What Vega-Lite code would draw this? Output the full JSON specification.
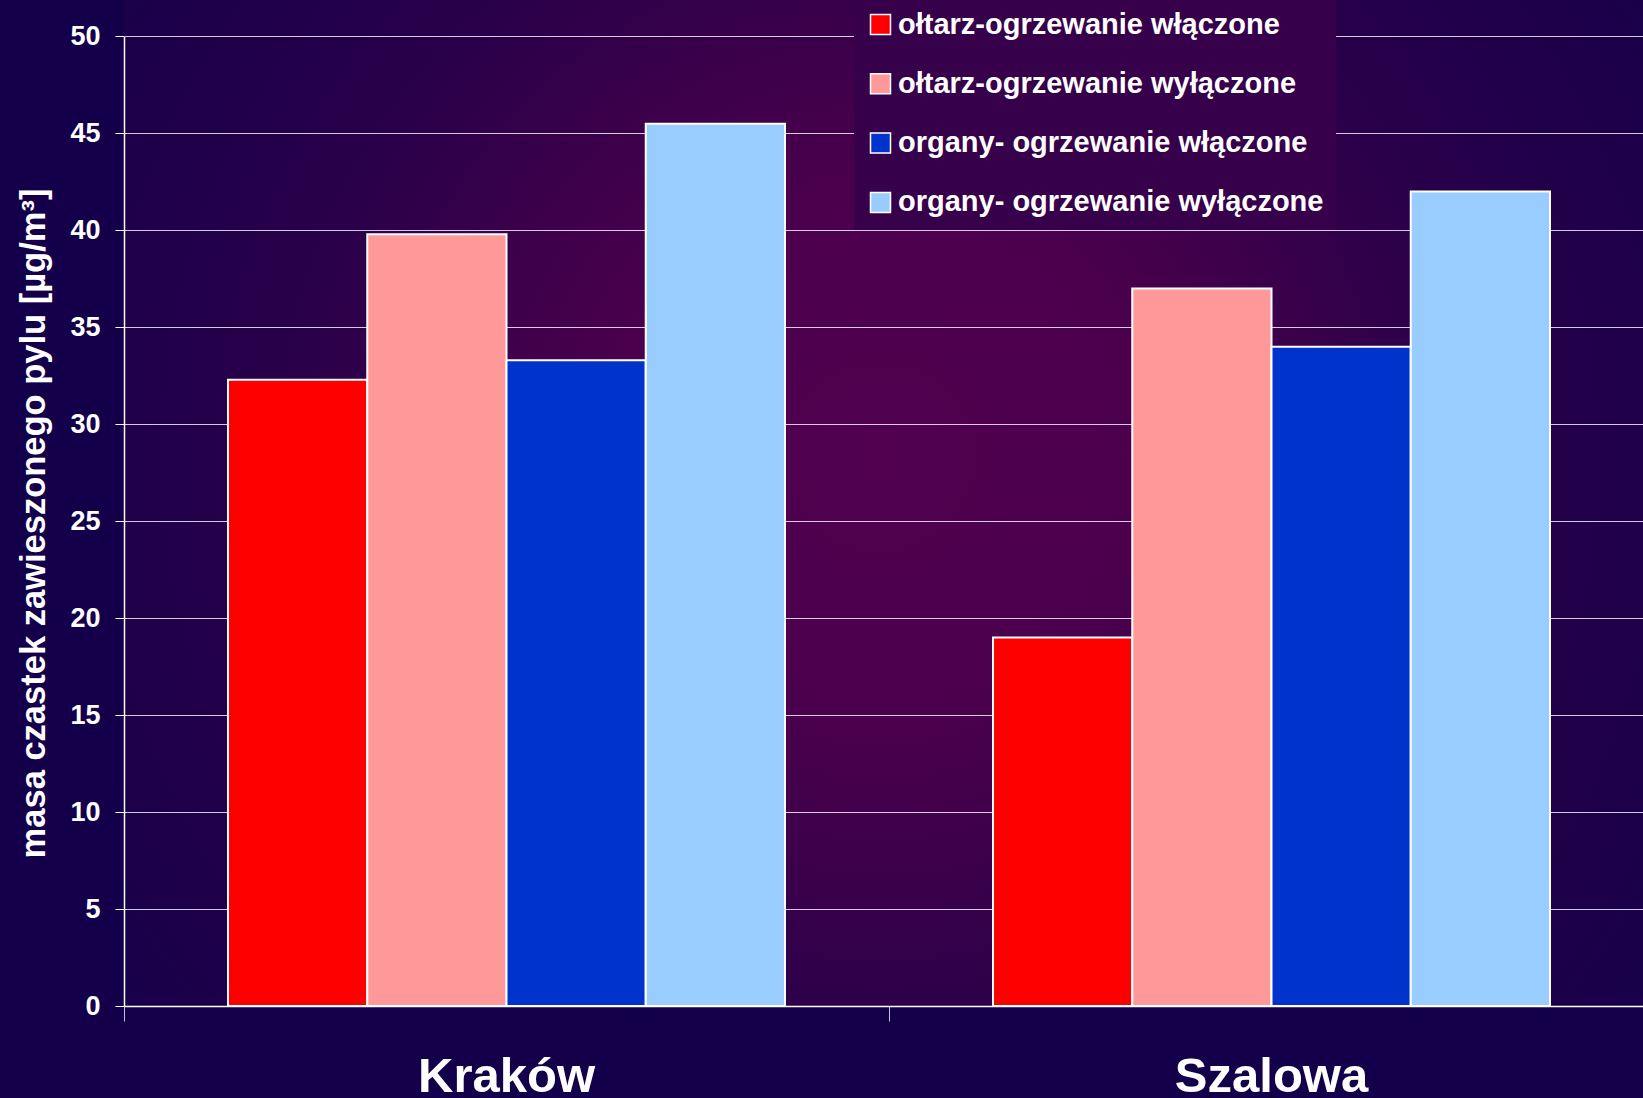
{
  "$schema": "https://vega.github.io/schema/vega-lite/v6.json",
  "width": 1519,
  "height": 1006,
  "autosize": {"type": "none"},
  "padding": {"left": 124, "top": 0, "right": 0, "bottom": 92},
  "background": "#14004a",
  "config": {
    "font": "Liberation Sans",
    "view": {
      "stroke": null,
      "fill": {
        "gradient": "radial",
        "x1": 0.498, "y1": 0.47, "r1": 0,
        "x2": 0.498, "y2": 0.47, "r2": 0.68,
        "stops": [
          {"offset": 0, "color": "#50004e"},
          {"offset": 0.25, "color": "#4b004d"},
          {"offset": 0.36, "color": "#41004b"},
          {"offset": 0.46, "color": "#35004a"},
          {"offset": 0.58, "color": "#29004a"},
          {"offset": 0.72, "color": "#200049"},
          {"offset": 1, "color": "#14004a"}
        ]
      }
    }
  },
  "data": {
    "values": [
      {"miejsce": "Kraków", "seria": "ołtarz-ogrzewanie włączone", "wartosc": 32.3},
      {"miejsce": "Kraków", "seria": "ołtarz-ogrzewanie wyłączone", "wartosc": 39.8},
      {"miejsce": "Kraków", "seria": "organy- ogrzewanie włączone", "wartosc": 33.3},
      {"miejsce": "Kraków", "seria": "organy- ogrzewanie wyłączone", "wartosc": 45.5},
      {"miejsce": "Szalowa", "seria": "ołtarz-ogrzewanie włączone", "wartosc": 19.0},
      {"miejsce": "Szalowa", "seria": "ołtarz-ogrzewanie wyłączone", "wartosc": 37.0},
      {"miejsce": "Szalowa", "seria": "organy- ogrzewanie włączone", "wartosc": 34.0},
      {"miejsce": "Szalowa", "seria": "organy- ogrzewanie wyłączone", "wartosc": 42.0}
    ]
  },
  "mark": {"type": "bar", "stroke": "#ffffff", "strokeWidth": 2},
  "encoding": {
    "x": {
      "field": "miejsce",
      "type": "nominal",
      "sort": ["Kraków", "Szalowa"],
      "scale": {"range": [0, 1530], "paddingInner": 0, "paddingOuter": 0},
      "axis": {
        "title": null,
        "labelAngle": 0,
        "labelFont": "Liberation Sans",
        "labelFontWeight": "bold",
        "labelFontSize": 49,
        "labelColor": "#ffffff",
        "labelBaseline": "alphabetic",
        "labelPadding": 70,
        "labelLimit": 500,
        "labelOverlap": false,
        "bandPosition": 0,
        "tickSize": 15,
        "tickColor": "#c8c0d8",
        "tickWidth": 1,
        "domainColor": "#ffffff",
        "domainWidth": 1.5,
        "grid": false
      }
    },
    "xOffset": {
      "field": "seria",
      "type": "nominal",
      "sort": ["ołtarz-ogrzewanie włączone", "ołtarz-ogrzewanie wyłączone", "organy- ogrzewanie włączone", "organy- ogrzewanie wyłączone"],
      "scale": {"paddingInner": 0, "paddingOuter": 0.747}
    },
    "y": {
      "field": "wartosc",
      "type": "quantitative",
      "scale": {"domain": [0, 51.88], "nice": false, "zero": true},
      "axis": {
        "title": "masa czastek zawieszonego pylu [µg/m³]",
        "titleFont": "Liberation Sans",
        "titleFontWeight": "bold",
        "titleFontSize": 34.5,
        "titleColor": "#ffffff",
        "titleAngle": -90,
        "titleAlign": "center",
        "titleBaseline": "middle",
        "titleX": -90,
        "titleY": 523,
        "values": [0, 5, 10, 15, 20, 25, 30, 35, 40, 45, 50],
        "labelFont": "Liberation Sans",
        "labelFontWeight": "bold",
        "labelFontSize": 27,
        "labelColor": "#ffffff",
        "labelPadding": 15,
        "tickSize": 9,
        "tickColor": "#ffffff",
        "tickWidth": 1,
        "domainColor": "#ffffff",
        "domainWidth": 1.5,
        "domainDash": [969.5, 200],
        "grid": true,
        "gridColor": "#ffffff",
        "gridOpacity": 0.8,
        "gridWidth": 1.2
      }
    },
    "color": {
      "field": "seria",
      "type": "nominal",
      "scale": {
        "domain": ["ołtarz-ogrzewanie włączone", "ołtarz-ogrzewanie wyłączone", "organy- ogrzewanie włączone", "organy- ogrzewanie wyłączone"],
        "range": ["#ff0000", "#ff9999", "#0033cc", "#99ccff"]
      },
      "legend": {
        "title": null,
        "orient": "none",
        "legendX": 730,
        "legendY": -2,
        "padding": 12,
        "fillColor": "#37004b",
        "symbolType": "square",
        "symbolSize": 400,
        "symbolStrokeColor": "#ffffff",
        "symbolStrokeWidth": 1.5,
        "symbolOpacity": 1,
        "labelFont": "Liberation Sans",
        "labelFontWeight": "bold",
        "labelFontSize": 29,
        "labelColor": "#ffffff",
        "labelOffset": 3,
        "labelLimit": 700,
        "rowPadding": 29.3
      }
    }
  }
}
